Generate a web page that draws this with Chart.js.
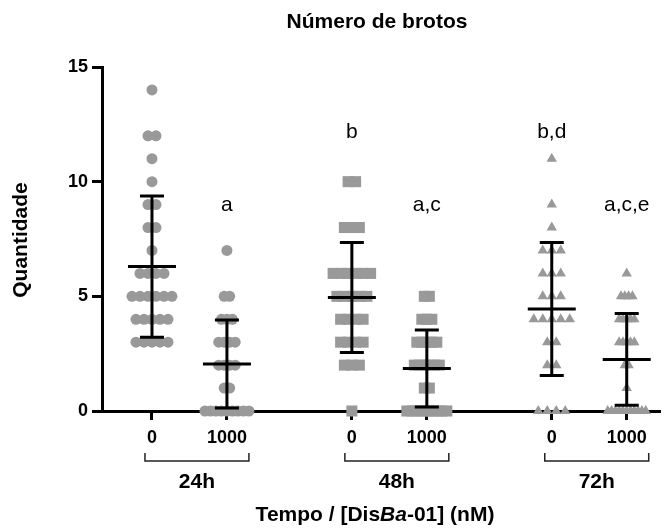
<!DOCTYPE html>
<html>
<head>
<meta charset="utf-8">
<title>Número de brotos</title>
<script src="https://cdn.jsdelivr.net/npm/chart.js@4.4.1/dist/chart.umd.min.js"></script>
<style>
    html, body { margin: 0; padding: 0; background: #fff; }
    canvas { display: block; }
</style>
</head>
<body>
<canvas id="grafico-brotos" width="667" height="528"></canvas>
<script>
// Dados
const groupLabels = ['24h', '48h', '72h'];
const doseLabels = ['0', '1000', '0', '1000', '0', '1000'];
const xPositions = [2, 5, 10, 13, 18, 21];
const yTicks = [0, 5, 10, 15];

const g24_0 = [14, 12, 12, 11, 10, 9, 9, 8, 8, 7, 6, 6, 6, 6, 5, 5, 5, 5, 5, 5, 4, 4, 4, 4, 4, 3, 3, 3, 3, 3];
const g24_1000 = [7, 5, 5, 4, 4, 4, 3, 3, 3, 3, 2, 2, 2, 2, 1, 1, 0, 0, 0, 0, 0, 0, 0, 0, 0];
const g48_0 = [10, 10, 8, 8, 8, 6, 6, 6, 6, 6, 6, 5, 5, 5, 5, 5, 4, 4, 4, 4, 3, 3, 3, 3, 2, 2, 2, 0];
const g48_1000 = [5, 5, 4, 4, 4, 3, 3, 3, 3, 3, 2, 2, 2, 2, 2, 2, 1, 1, 0, 0, 0, 0, 0, 0, 0, 0, 0];
const g72_0 = [11, 9, 8, 7, 7, 7, 6, 6, 6, 5, 5, 5, 4, 4, 4, 4, 4, 3, 3, 2, 2, 0, 0, 0, 0];
const g72_1000 = [6, 5, 5, 5, 5, 4, 4, 4, 4, 4, 3, 3, 3, 3, 3, 2, 2, 1, 0, 0, 0, 0, 0, 0, 0, 0, 0, 0, 0];

// média e desvio padrão (barras do gráfico)
const means = [6.3, 2.05, 4.95, 1.85, 4.45, 2.25];
const sds = [3.08, 1.92, 2.4, 1.68, 2.9, 2.0];

// letras de significância
const letters = ['', 'a', 'b', 'a,c', 'b,d', 'a,c,e'];
const letterY = [0, 8.7, 11.9, 8.7, 11.9, 8.7];

const FONT = "'Liberation Sans', Arial, sans-serif";
const GRAY = '#999999';
const groups = [g24_0, g24_1000, g48_0, g48_1000, g72_0, g72_1000];
const shapes = ['circle', 'circle', 'rect', 'rect', 'triangle', 'triangle'];
const radii = [5.5, 5.5, 7.8, 7.8, 6, 6];
const spreadPx = [8, 5.5, 7.5, 5, 9, 3.8];
const PX_PER_UNIT = 25;

// espalha pontos de mesmo valor lado a lado
function spreadPoints(values, center, spacing) {
    const counts = {};
    values.forEach(v => { counts[v] = (counts[v] || 0) + 1; });
    const pts = [];
    Object.keys(counts).forEach(key => {
        const n = counts[key];
        for (let k = 0; k < n; k++) {
            pts.push({ x: center + (k - (n - 1) / 2) * spacing / PX_PER_UNIT, y: Number(key) });
        }
    });
    return pts;
}

const datasets = groups.map((values, i) => ({
    label: doseLabels[i],
    data: spreadPoints(values, xPositions[i], spreadPx[i]),
    pointStyle: shapes[i],
    pointRadius: radii[i],
    pointBackgroundColor: GRAY,
    pointBorderWidth: 0,
    showLine: false,
    clip: false
}));

const errorBars = {
    id: 'errorBars',
    afterDatasetsDraw(chart) {
        const { ctx, scales: { x, y } } = chart;
        ctx.save();
        ctx.strokeStyle = '#000';
        ctx.lineWidth = 3;
        means.forEach((m, i) => {
            const px = x.getPixelForValue(xPositions[i]);
            const top = y.getPixelForValue(m + sds[i]);
            const bot = y.getPixelForValue(m - sds[i]);
            const mid = y.getPixelForValue(m);
            ctx.beginPath();
            ctx.moveTo(px, top); ctx.lineTo(px, bot);
            ctx.moveTo(px - 12, top); ctx.lineTo(px + 12, top);
            ctx.moveTo(px - 12, bot); ctx.lineTo(px + 12, bot);
            ctx.moveTo(px - 24, mid); ctx.lineTo(px + 24, mid);
            ctx.stroke();
        });
        ctx.restore();
    }
};

const textos = {
    id: 'textos',
    afterDraw(chart) {
        const { ctx, scales: { x, y } } = chart;
        ctx.save();
        ctx.fillStyle = '#000';
        ctx.textAlign = 'center';

        // título
        ctx.font = `bold 21px ${FONT}`;
        ctx.textBaseline = 'middle';
        ctx.fillText('Número de brotos', 377, 22);

        // eixo y
        ctx.save();
        ctx.translate(21, 240);
        ctx.rotate(-Math.PI / 2);
        ctx.fillText('Quantidade', 0, 0);
        ctx.restore();

        // letras
        ctx.font = `21px ${FONT}`;
        ctx.textBaseline = 'alphabetic';
        letters.forEach((t, i) => {
            if (!t) return;
            ctx.fillText(t, x.getPixelForValue(xPositions[i]), y.getPixelForValue(letterY[i]));
        });

        // colchetes e rótulos dos tempos
        ctx.strokeStyle = '#222';
        ctx.lineWidth = 1.5;
        ctx.font = `bold 21px ${FONT}`;
        ctx.textBaseline = 'middle';
        groupLabels.forEach((g, gi) => {
            const left = x.getPixelForValue(xPositions[gi * 2]) - 7;
            const right = x.getPixelForValue(xPositions[gi * 2 + 1]) + 22;
            ctx.beginPath();
            ctx.moveTo(left, 453); ctx.lineTo(left, 461);
            ctx.lineTo(right, 461); ctx.lineTo(right, 453);
            ctx.stroke();
            ctx.fillText(g, (left + right) / 2, 482);
        });

        // título do eixo x com "Ba" em itálico
        const parts = [
            ['Tempo / [Dis', `bold 21px ${FONT}`],
            ['Ba', `italic bold 21px ${FONT}`],
            ['-01] (nM)', `bold 21px ${FONT}`]
        ];
        let total = 0;
        parts.forEach(p => { ctx.font = p[1]; total += ctx.measureText(p[0]).width; });
        let cx = 375 - total / 2;
        ctx.textAlign = 'left';
        parts.forEach(p => {
            ctx.font = p[1];
            ctx.fillText(p[0], cx, 515);
            cx += ctx.measureText(p[0]).width;
        });
        ctx.restore();
    }
};

new Chart(document.getElementById('grafico-brotos'), {
    type: 'scatter',
    data: { datasets },
    options: {
        responsive: false,
        animation: false,
        devicePixelRatio: 1,
        layout: { padding: { top: 67, right: 7, left: 0, bottom: 0 } },
        plugins: {
            legend: { display: false },
            tooltip: { enabled: false }
        },
        scales: {
            x: {
                type: 'linear',
                min: 0,
                max: 22.3,
                afterBuildTicks: (axis) => { axis.ticks = xPositions.map(v => ({ value: v })); },
                afterFit: (axis) => { axis.height = 117; },
                border: { display: true, color: '#000', width: 3 },
                grid: {
                    drawOnChartArea: false, drawTicks: true, tickLength: 9,
                    tickWidth: 3, tickColor: '#000', color: '#000', lineWidth: 3
                },
                ticks: {
                    autoSkip: false, maxRotation: 0, padding: 7, color: '#000',
                    font: { family: FONT, size: 18, weight: 'bold' },
                    callback: (v) => {
                        const i = xPositions.indexOf(v);
                        return i >= 0 ? doseLabels[i] : '';
                    }
                }
            },
            y: {
                min: 0,
                max: 15,
                afterBuildTicks: (axis) => { axis.ticks = yTicks.map(v => ({ value: v })); },
                afterFit: (axis) => { axis.width = 102; },
                border: { display: true, color: '#000', width: 3 },
                grid: {
                    drawOnChartArea: false, drawTicks: true, tickLength: 10,
                    tickWidth: 3, tickColor: '#000', color: '#000', lineWidth: 3
                },
                ticks: {
                    padding: 4, color: '#000',
                    font: { family: FONT, size: 18, weight: 'bold' }
                }
            }
        }
    },
    plugins: [errorBars, textos]
});
</script>
</body>
</html>
